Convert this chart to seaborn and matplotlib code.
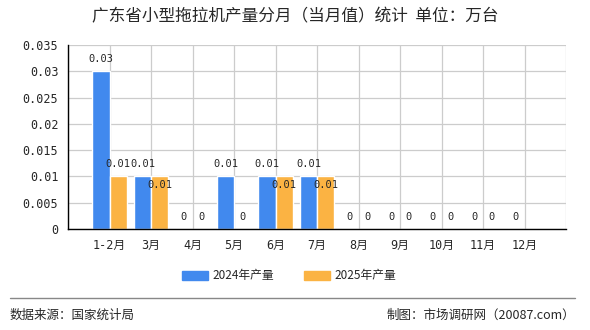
import matplotlib
matplotlib.use("Agg")
import matplotlib.pyplot as plt
import numpy as np
import pandas as pd
import seaborn as sns

months = ["1-2月", "3月", "4月", "5月", "6月", "7月", "8月", "9月", "10月", "11月", "12月"]
prod_2024 = [0.03, 0.01, 0, 0.01, 0.01, 0.01, 0, 0, 0, 0, 0]
prod_2025 = [0.01, 0.01, 0, 0, 0.01, 0.01, 0, 0, 0, 0, np.nan]
series_names = ["2024年产量", "2025年产量"]
colors = ["#4189ee", "#fbb343"]

df = pd.DataFrame({
    "month": months * 2,
    "value": prod_2024 + prod_2025,
    "series": [series_names[0]] * len(months) + [series_names[1]] * len(months),
})

sns.set_style("white")
plt.rcParams["font.family"] = ["Noto Sans CJK SC", "DejaVu Sans"]
num_font = ["DejaVu Sans Mono", "Noto Sans CJK SC"]

fig = plt.figure(figsize=(5.9, 3.3), dpi=100)
ax = fig.add_axes([68 / 590, 1 - 229 / 330, (566 - 68) / 590, (229 - 45) / 330])

sns.barplot(data=df, x="month", y="value", hue="series", order=months,
            hue_order=series_names, palette=colors, width=0.82, ax=ax,
            saturation=1, legend=False, errorbar=None)

ax.set_xlim(-1, len(months))
ax.set_ylim(0, 0.035)
ax.set_yticks(np.arange(0, 0.0351, 0.005))
ax.set_yticklabels(["0", "0.005", "0.01", "0.015", "0.02", "0.025", "0.03", "0.035"],
                   fontsize=8.5, family=num_font)
ax.set_xticks(np.arange(-1, len(months) + 1))
ax.set_xticklabels([""] + months + [""], fontsize=8.5, family=num_font)
ax.set_xlabel("")
ax.set_ylabel("")
ax.grid(True, color="#cccccc", linewidth=0.9)
ax.set_axisbelow(True)
for s in ["top", "right"]:
    ax.spines[s].set_visible(False)
for s in ["left", "bottom"]:
    ax.spines[s].set_color("black")
    ax.spines[s].set_linewidth(1)
ax.tick_params(axis="both", direction="out", length=4, width=1, color="black", pad=3)

# value labels
vals = [prod_2024, prod_2025]
for k, cont in enumerate(ax.containers):
    for i, bar in enumerate(cont):
        v = vals[k][i]
        if np.isnan(v):
            continue
        cx = bar.get_x() + bar.get_width() / 2
        inside = k == 1 and v > 0 and v == prod_2024[i]
        dy = -6 if inside else 9
        ax.annotate(f"{v:g}", (cx, v), xytext=(0, dy), textcoords="offset points",
                    ha="center", va="center", fontsize=7.5, family=num_font)

fig.text(0.5, 1 - 17 / 330, "广东省小型拖拉机产量分月（当月值）统计  单位：万台",
         ha="center", va="center", fontsize=12)

handles = [plt.Rectangle((0, 0), 1, 1, color=c) for c in colors]
fig.legend(handles, series_names, loc="center", bbox_to_anchor=(0.49, 1 - 276 / 330),
           ncol=2, frameon=False, fontsize=8.5, handlelength=2.2, handleheight=0.8,
           columnspacing=2.5, handletextpad=0.4)

fig.add_artist(plt.Line2D([10 / 590, 575 / 590], [1 - 298 / 330] * 2, color="#888888", linewidth=1))
fig.text(10 / 590, 1 - 315 / 330, "数据来源：国家统计局", ha="left", va="center", fontsize=9)
fig.text(575 / 590, 1 - 315 / 330, "制图：市场调研网（20087.com）", ha="right", va="center", fontsize=9)

fig.savefig("out.png", dpi=100)
